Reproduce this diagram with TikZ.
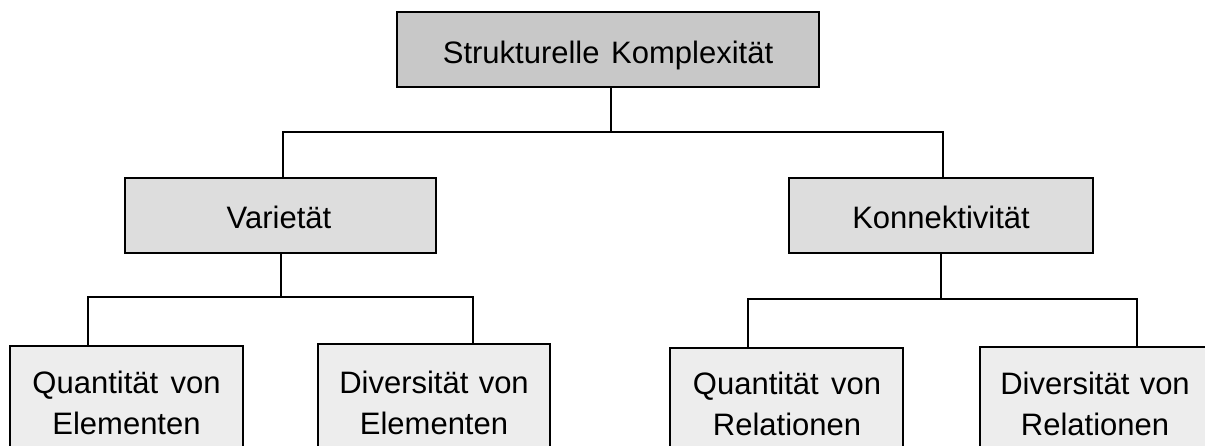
\documentclass[tikz,border=0pt]{standalone}
\usepackage{fontspec}
\setmainfont{Liberation Sans}
\definecolor{fillA}{RGB}{200,200,200}
\definecolor{fillB}{RGB}{221,221,221}
\definecolor{fillC}{RGB}{237,237,237}
\tikzset{
  box/.style={rectangle, draw=black, line width=2pt, inner sep=0pt},
  link/.style={draw=black, line width=1.6pt},
  lbl/.style={inner sep=0pt, anchor=base, font=\fontsize{31}{41}\selectfont},
  lbltwo/.style={lbl, align=center, text width=240pt}
}
\begin{document}
\begin{tikzpicture}[x=1pt, y=-1pt]
  \useasboundingbox (0,0) rectangle (1205,446);
  \clip (0,0) rectangle (1205,446);

  % boxes
  \node[box, fill=fillA, minimum width=422pt, minimum height=75pt] (top) at (608,49.5) {};
  \node[box, fill=fillB, minimum width=311pt, minimum height=75pt] (var) at (280.5,215.5) {};
  \node[box, fill=fillB, minimum width=304pt, minimum height=75pt] (kon) at (941,215.5) {};
  \node[box, fill=fillC, minimum width=233pt, minimum height=120pt] (qe) at (126.5,406) {};
  \node[box, fill=fillC, minimum width=232pt, minimum height=122pt] (de) at (434,405) {};
  \node[box, fill=fillC, minimum width=233pt, minimum height=118pt] (qr) at (786.5,407) {};
  \node[box, fill=fillC, minimum width=240pt, minimum height=119pt] (dr) at (1100,406.5) {};

  % labels
  \node[lbl] (ttop) at (608,64) {Strukturelle\hspace{3pt} Komplexität};
  \node[lbl] (tvar) at (279,229) {Varietät};
  \node[lbl] (tkon) at (941,229) {Konnektivität};
  \node[lbltwo] (tqe) at (126.5,393) {Quantität\hspace{2pt} von\\Elementen};
  \node[lbltwo] (tde) at (434,393) {Diversität von\\Elementen};
  \node[lbltwo] (tqr) at (787,394) {Quantität\hspace{2pt} von\\Relationen};
  \node[lbltwo] (tdr) at (1095,394) {Diversität von\\Relationen};

  % tree connectors
  \draw[link] ([xshift=3pt]top.south) -- ++(0,44) coordinate (j1);
  \draw[link] ([xshift=2.5pt]var.north) |- (j1) -| ([xshift=2pt]kon.north);
  \draw[link] ([xshift=0.5pt]var.south) -- ++(0,43) coordinate (j2);
  \draw[link] ([xshift=-38.5pt]qe.north) |- (j2) -| ([xshift=39pt]de.north);
  \draw[link] (kon.south) -- ++(0,45) coordinate (j3);
  \draw[link] ([xshift=-38.5pt]qr.north) |- (j3) -| ([xshift=37pt]dr.north);
\end{tikzpicture}
\end{document}
